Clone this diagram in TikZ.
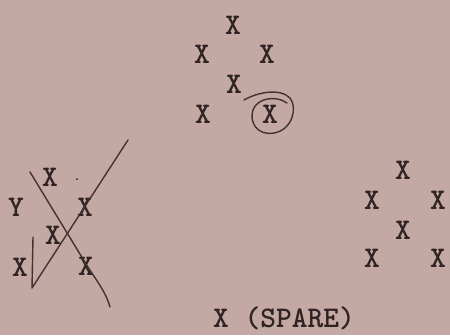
\documentclass[tikz,border=0pt]{standalone}
\usepackage{fontspec}
\usetikzlibrary{calc}

\definecolor{paper}{RGB}{195,168,163}
\definecolor{ink}{RGB}{48,35,35}
\definecolor{pencil}{RGB}{68,50,50}

\tikzset{
  typed/.style={text=ink, inner sep=0pt,
    font=\ttfamily\bfseries\fontsize{30}{32}\selectfont},
  pen/.style={draw=pencil, line width=1.4pt, line cap=round, line join=round},
}

\begin{document}
\begin{tikzpicture}[x=1pt,y=-1pt]
% Sheet
\fill[paper] (0,0) rectangle (450,335);
\useasboundingbox (0,0) rectangle (450,335);

% Top group
\node[typed] (t1) at (233,25) {X};
\node[typed] (t2) at (202,54) {X};
\node[typed] (t3) at (267,54) {X};
\node[typed] (t4) at (234,84) {X};
\node[typed] (t5) at (203,114) {X};
\node[typed] (t6) at (270,114) {X};

% Ring round the chosen one
\draw[pen] (244,100) .. controls (258,92) and (280,88) .. (290,98)
    .. controls (298,108) and (292,130) .. (274,133)
    .. controls (257,136) and (249,122) .. (253,110)
    .. controls (257,98) and (276,95) .. (287,103);

% Left group
\node[typed] (l1) at (50,177) {X};
\node[typed] (l2) at (16,207) {Y};
\node[typed] (l3) at (85,207) {X};
\node[typed] (l4) at (53,235) {X};
\node[typed] (l5) at (20,267) {X};
\node[typed] (l6) at (86,266) {X};
\fill[ink] (77,179) circle (1pt);

% Strokes through the left group
\coordinate (a0) at (33,237);
\coordinate (a1) at (32,288);
\coordinate (a2) at (128,140);
\draw[pen] (a0) -- (a1) -- (a2);
\coordinate (b0) at (30,172);
\coordinate (b1) at (86,264);
\coordinate (b2) at (110,307);
\draw[pen] (b0) -- (b1) .. controls (96,280) and (106,292) .. (b2);

% Right group
\node[typed] (r1) at (403,170) {X};
\node[typed] (r2) at (372,200) {X};
\node[typed] (r3) at (438,200) {X};
\node[typed] (r4) at (403,230) {X};
\node[typed] (r5) at (372,258) {X};
\node[typed] (r6) at (438,258) {X};

% Spare
\node[typed, anchor=west] (spare) at (213,318) {X (SPARE)};
\end{tikzpicture}
\end{document}
